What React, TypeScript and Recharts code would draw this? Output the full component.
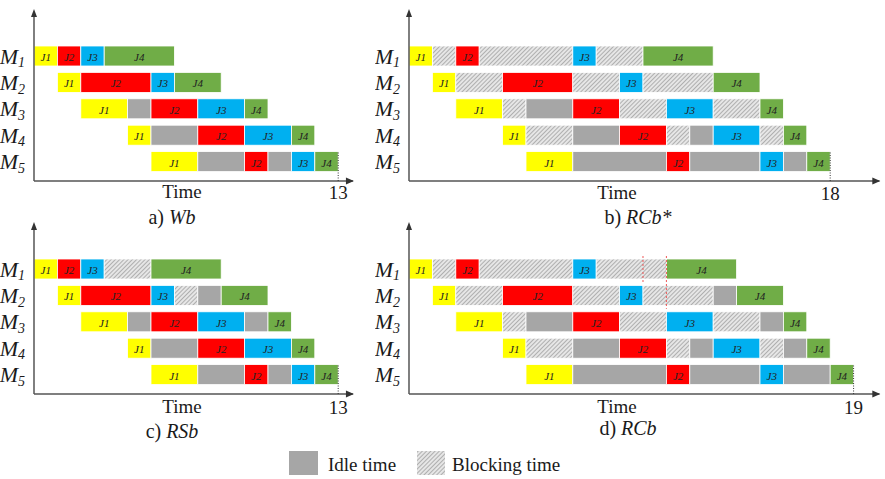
import React from 'react';
import { BarChart, Bar, XAxis, YAxis, ReferenceLine } from 'recharts';

const machines = ['M1', 'M2', 'M3', 'M4', 'M5'];
const startTimes = [0, 1, 2, 4, 5];

// J1..J4 = jobs, I = idle time, B = blocking time
const wbJobs = [
  ['J1', 'J2', 'J3', 'J4'],
  ['J1', 'J2', 'J3', 'J4'],
  ['J1', 'I', 'J2', 'J3', 'J4'],
  ['J1', 'I', 'J2', 'J3', 'J4'],
  ['J1', 'I', 'J2', 'I', 'J3', 'J4'],
];
const wbTimes = [
  [1, 1, 1, 3],
  [1, 3, 1, 2],
  [2, 1, 2, 2, 1],
  [1, 2, 2, 2, 1],
  [2, 2, 1, 1, 1, 1],
];

const rcbStarJobs = [
  ['J1', 'B', 'J2', 'B', 'J3', 'B', 'J4'],
  ['J1', 'B', 'J2', 'B', 'J3', 'B', 'J4'],
  ['J1', 'B', 'I', 'J2', 'B', 'J3', 'B', 'J4'],
  ['J1', 'B', 'I', 'J2', 'B', 'I', 'J3', 'B', 'J4'],
  ['J1', 'I', 'J2', 'I', 'J3', 'I', 'J4'],
];
const rcbStarTimes = [
  [1, 1, 1, 4, 1, 2, 3],
  [1, 2, 3, 2, 1, 3, 2],
  [2, 1, 2, 2, 2, 2, 2, 1],
  [1, 2, 2, 2, 1, 1, 2, 1, 1],
  [2, 4, 1, 3, 1, 1, 1],
];

const rsbJobs = [
  ['J1', 'J2', 'J3', 'B', 'J4'],
  ['J1', 'J2', 'J3', 'B', 'I', 'J4'],
  ['J1', 'I', 'J2', 'J3', 'I', 'J4'],
  ['J1', 'I', 'J2', 'J3', 'J4'],
  ['J1', 'I', 'J2', 'I', 'J3', 'J4'],
];
const rsbTimes = [
  [1, 1, 1, 2, 3],
  [1, 3, 1, 1, 1, 2],
  [2, 1, 2, 2, 1, 1],
  [1, 2, 2, 2, 1],
  [2, 2, 1, 1, 1, 1],
];

const rcbJobs = [
  ['J1', 'B', 'J2', 'B', 'J3', 'B', 'J4'],
  ['J1', 'B', 'J2', 'B', 'J3', 'B', 'I', 'J4'],
  ['J1', 'B', 'I', 'J2', 'B', 'J3', 'B', 'I', 'J4'],
  ['J1', 'B', 'I', 'J2', 'B', 'I', 'J3', 'B', 'I', 'J4'],
  ['J1', 'I', 'J2', 'I', 'J3', 'I', 'J4'],
];
const rcbTimes = [
  [1, 1, 1, 4, 1, 3, 3],
  [1, 2, 3, 2, 1, 3, 1, 2],
  [2, 1, 2, 2, 2, 2, 2, 1, 1],
  [1, 2, 2, 2, 1, 1, 2, 1, 1, 1],
  [2, 4, 1, 3, 1, 2, 1],
];

// red dotted guides in d): time, from machine, to machine
const rcbGuides: [number, string, string][] = [
  [10, 'M1', 'M2'],
  [11, 'M1', 'M3'],
];

const colors: Record<string, string> = {
  J1: '#FFFF00',
  J2: '#FF0000',
  J3: '#00B0F0',
  J4: '#70AD47',
  I: '#A6A6A6',
  B: 'url(#hatch)',
};

const SERIF = '"Liberation Serif", "Times New Roman", serif';
const AX = '#555';
const U = 23.4; // px per time unit
const YW = 34;
const H = 240;

const buildRows = (jobs: string[][], times: number[][]) => {
  const n = Math.max(...jobs.map((r) => r.length));
  const rows = machines.map((m, i) => {
    const row: Record<string, any> = { m, off: startTimes[i] };
    for (let j = 0; j < n; j++) {
      row['k' + j] = jobs[i][j];
      row['s' + j] = times[i][j] ?? 0;
    }
    return row;
  });
  return { rows, n };
};

const Seg = (props: any) => {
  const { x, y, width, height, kind } = props;
  if (!kind || !width) return null;
  return (
    <g>
      <rect x={x} y={y} width={width} height={height} fill={colors[kind]} stroke="#fff" strokeWidth={0.8} />
      {kind[0] === 'J' && (
        <text
          x={x + width / 2}
          y={y + height / 2 + 1}
          textAnchor="middle"
          dominantBaseline="central"
          fontFamily={SERIF}
          fontStyle="italic"
          fontSize={11}
          fill="#222"
        >
          {kind}
        </text>
      )}
    </g>
  );
};

const MachineTick = ({ x, y, payload }: any) => (
  <text x={x - 1} y={y} textAnchor="end" dominantBaseline="central" fontFamily={SERIF} fontStyle="italic" fontSize={22} fill="#1a1a1a">
    M<tspan fontSize={14} dy={6}>{String(payload.value).slice(1)}</tspan>
  </text>
);

interface PanelProps {
  left: number;
  top: number;
  xMax: number;
  end: number;
  tag: string;
  name: string;
  jobs: string[][];
  times: number[][];
  timeX: number;
  capX: number;
  textDy: number;
  capDy: number;
  guides?: [number, string, string][];
}

const Panel = ({ left, top, xMax, end, tag, name, jobs, times, timeX, capX, textDy, capDy, guides = [] }: PanelProps) => {
  const { rows, n } = buildRows(jobs, times);
  const width = YW + xMax * U + 4;

  const endTick = ({ x, y, payload }: any) => (
    <g>
      <line x1={x} x2={x} y1={y} y2={y - 29} stroke="#333" strokeDasharray="1 1.5" />
      <text x={x} y={y + textDy + 1} textAnchor="middle" fontFamily={SERIF} fontSize={19} fill="#1a1a1a">
        {payload.value}
      </text>
    </g>
  );

  const xLabel = ({ viewBox }: any) => {
    const ex = viewBox.x + viewBox.width;
    const ay = viewBox.y;
    return (
      <g>
        <path d={`M${ex - 7},${ay - 3.5} L${ex + 1},${ay} L${ex - 7},${ay + 3.5} Z`} fill="#333" />
        <text x={viewBox.x + timeX} y={ay + textDy} textAnchor="middle" fontFamily={SERIF} fontSize={19} fill="#1a1a1a">
          Time
        </text>
        <text x={viewBox.x + capX} y={ay + capDy} textAnchor="middle" fontFamily={SERIF} fontSize={20} fill="#1a1a1a" style={{ whiteSpace: 'pre' }}>
          {tag}
          <tspan fontStyle="italic">{name}</tspan>
        </text>
      </g>
    );
  };

  const yLabel = ({ viewBox }: any) => {
    const ax = viewBox.x + viewBox.width;
    const t = viewBox.y;
    return (
      <g>
        <line x1={ax} x2={ax} y1={t} y2={t - 28} stroke={AX} strokeWidth={1.5} />
        <path d={`M${ax - 3},${t - 26} L${ax},${t - 34} L${ax + 3},${t - 26} Z`} fill="#333" />
      </g>
    );
  };

  return (
    <div style={{ position: 'absolute', left, top }}>
      <BarChart
        width={width}
        height={H}
        data={rows}
        layout="vertical"
        barSize={20}
        margin={{ top: 43, right: 4, left: 0, bottom: 0 }}
      >
        <XAxis
          type="number"
          domain={[0, xMax]}
          ticks={[end]}
          tick={endTick}
          tickLine={false}
          tickSize={0}
          tickMargin={0}
          height={H - 181}
          axisLine={{ stroke: AX, strokeWidth: 1.5 }}
          label={xLabel}
        />
        <YAxis
          type="category"
          dataKey="m"
          width={YW}
          interval={0}
          tickLine={false}
          axisLine={{ stroke: AX, strokeWidth: 1.5 }}
          padding={{ top: 0, bottom: 6 }}
          tick={MachineTick}
          label={yLabel}
        />
        <Bar dataKey="off" stackId="s" fill="transparent" isAnimationActive={false} />
        {Array.from({ length: n }, (_, j) => (
          <Bar
            key={j}
            dataKey={'s' + j}
            stackId="s"
            isAnimationActive={false}
            shape={(p: any) => <Seg {...p} kind={p.payload['k' + j]} />}
          />
        ))}
        {guides.map(([t, a, b]) => (
          <ReferenceLine
            key={t}
            segment={[{ x: t, y: a }, { x: t, y: b }]}
            position="start"
            stroke="#E55"
            strokeWidth={1}
            strokeDasharray="2 2"
          />
        ))}
      </BarChart>
    </div>
  );
};

export default function App() {
  return (
    <div style={{ position: 'absolute', left: 0, top: 0, width: 885, height: 479, background: '#fff', overflow: 'hidden' }}>
      <Panel left={0} top={0} xMax={13.63} end={13} tag="a) " name="Wb" jobs={wbJobs} times={wbTimes} timeX={148} capX={138} textDy={17} capDy={43} />
      <Panel left={375} top={0} xMax={20.1} end={18} tag="b) " name="RCb*" jobs={rcbStarJobs} times={rcbStarTimes} timeX={208} capX={229} textDy={18} capDy={43} />
      <Panel left={0} top={213} xMax={13.63} end={13} tag="c) " name="RSb" jobs={rsbJobs} times={rsbTimes} timeX={148} capX={138} textDy={19} capDy={44} />
      <Panel left={375} top={213} xMax={20.1} end={19} tag="d) " name="RCb" jobs={rcbJobs} times={rcbTimes} timeX={208} capX={219} textDy={19} capDy={41} guides={rcbGuides} />
      <svg width={885} height={39} style={{ position: 'absolute', left: 0, top: 440 }}>
        <defs>
          <pattern id="hatch" patternUnits="userSpaceOnUse" width={3} height={3} patternTransform="rotate(45)">
            <rect width={3} height={3} fill="#e6e6e6" />
            <line x1={0.5} y1={0} x2={0.5} y2={3} stroke="#a9a9a9" strokeWidth={0.9} />
          </pattern>
        </defs>
        <rect x={289} y={11} width={29} height={24} fill="#A6A6A6" />
        <text x={328} y={31} fontFamily={SERIF} fontSize={19} fill="#1a1a1a">Idle time</text>
        <rect x={417} y={11} width={28} height={24} fill="url(#hatch)" />
        <text x={452} y={31} fontFamily={SERIF} fontSize={19} fill="#1a1a1a">Blocking time</text>
      </svg>
    </div>
  );
}
